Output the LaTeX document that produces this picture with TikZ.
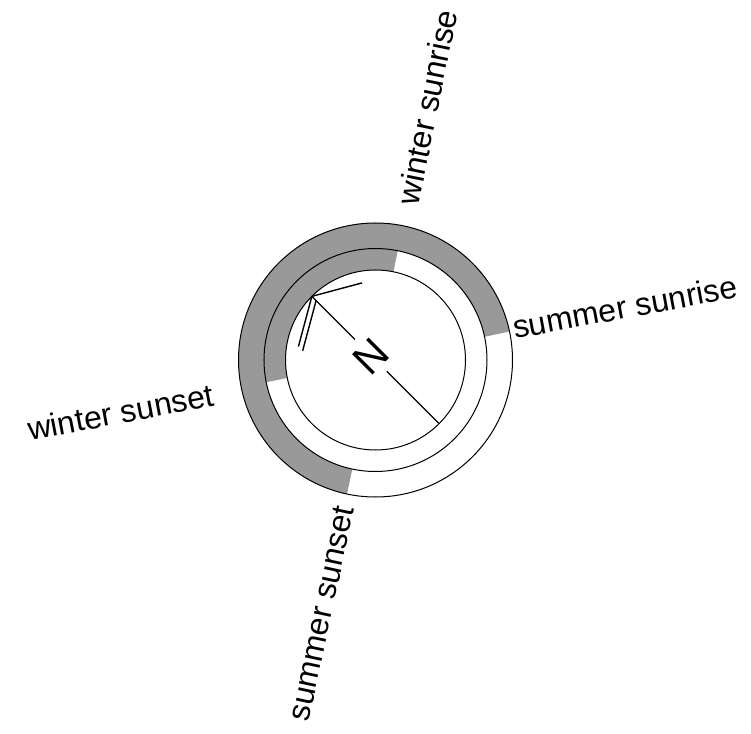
\documentclass[tikz,border=0pt]{standalone}
\usepackage{fontspec}
\setmainfont{Liberation Sans}
\usetikzlibrary{calc}
\definecolor{ringgray}{RGB}{153,153,153}
\begin{document}
\begin{tikzpicture}[x=1pt,y=1pt,
  ringline/.style={line width=1pt},
  lbl/.style={font=\fontsize{32}{32}\selectfont, inner sep=0pt},
  needle/.style={line width=1.4pt}]
\useasboundingbox (-375.5,-373) rectangle (375.5,360);
\coordinate (O) at (0,0);
% shaded ring sectors
\fill[ringgray] (12:137pt) arc[start angle=12,end angle=258,radius=137pt]
  -- (258:111.5pt) arc[start angle=258,end angle=12,radius=111.5pt] -- cycle;
\fill[ringgray] (78.5:111.5pt) arc[start angle=78.5,end angle=191.5,radius=111.5pt]
  -- (191.5:90pt) arc[start angle=191.5,end angle=78.5,radius=90pt] -- cycle;
% circles
\draw[ringline] (O) circle[radius=137pt];
\draw[ringline] (O) circle[radius=111.5pt];
\draw[ringline] (O) circle[radius=90pt];
% north needle
\coordinate (tip) at (135:90pt);
\coordinate (tail) at (-45:90pt);
\coordinate (g1) at (135:29pt);
\coordinate (g2) at (-45:16pt);
\coordinate (b1) at ($(tip)+(15:52pt)$);
\coordinate (b2) at ($(tip)+(255:52pt)$);
\coordinate (s) at ($(tip)+(-45:6pt)$);
\coordinate (b3) at ($(s)+(255:52pt)$);
\draw[needle] (tip) -- (g1);
\draw[needle] (g2) -- (tail);
\draw[needle] (tip) -- (b1);
\draw[needle] (tip) -- (b2);
\draw[needle] (s) -- (b3);
\node[font=\fontsize{42}{42}\selectfont, rotate=45, inner sep=0pt] (N) at (-4.5,3) {N};
% labels
\node[lbl, rotate=78.5] (wsr) at (78.5:258pt) {winter sunrise};
\node[lbl, rotate=10.5] (ssr) at (12:255pt) {summer sunrise};
\node[lbl, rotate=10.8] (wss) at (191.5:260pt) {winter sunset};
\node[lbl, rotate=78] (sss) at (258:259pt) {summer sunset};
\end{tikzpicture}
\end{document}
